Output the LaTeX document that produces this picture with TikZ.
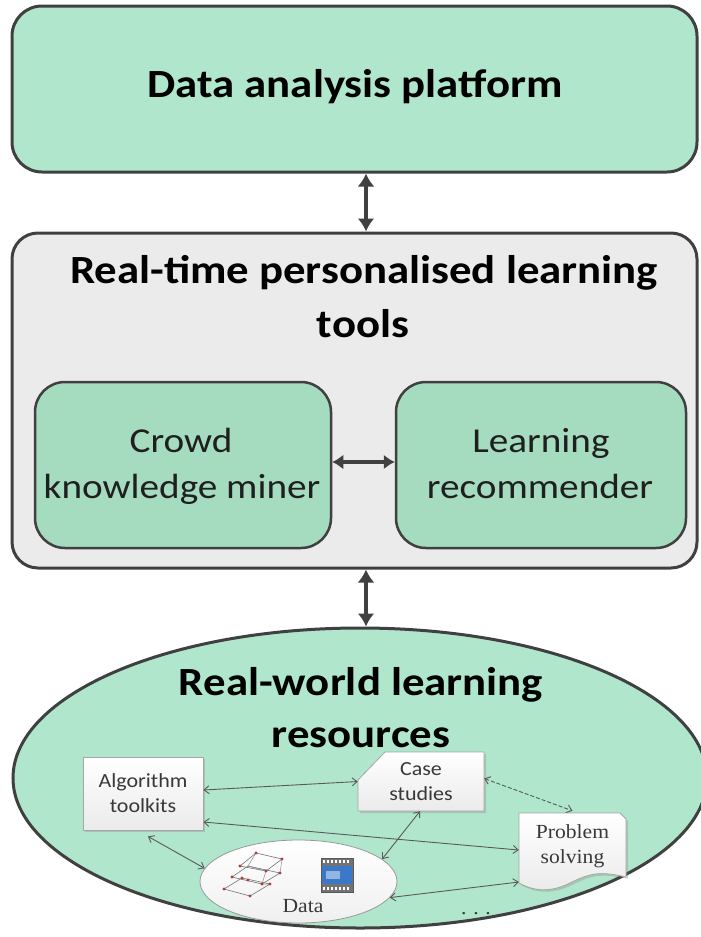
\documentclass[tikz,border=0pt]{standalone}
\usepackage{fontspec}
\setmainfont{Carlito}[FakeStretch=1.12]
\newfontfamily\smallserif{Liberation Serif}[FakeStretch=1.08]
\newfontfamily\smallsans{Carlito}[FakeStretch=1.1]
\usetikzlibrary{arrows.meta,shapes.geometric,shadows}
\definecolor{mint}{HTML}{B0E6CB}
\definecolor{mintdark}{HTML}{A5DBBF}
\definecolor{panel}{HTML}{EBEBEB}
\definecolor{edge}{HTML}{404040}
\definecolor{thinline}{HTML}{5A5A5A}
\definecolor{dotred}{HTML}{B03A3A}
\definecolor{filmblue}{HTML}{3B78C8}
\begin{document}
\begin{tikzpicture}[x=1pt,y=-1pt,
  bigbox/.style={draw=edge, line width=3pt, rounded corners=30pt, inner sep=0pt},
  heading/.style={font=\fontsize{40}{48}\selectfont\bfseries, anchor=base, inner sep=0pt, text=black},
  innertxt/.style={font=\fontsize{35}{42}\selectfont, anchor=base, inner sep=0pt, text=black!88},
  bigarrow/.style={draw=edge, line width=4.5pt, {Latex[length=13pt,width=17pt]}-{Latex[length=13pt,width=17pt]}},
  midarrow/.style={draw=edge, line width=4pt, {Latex[length=11pt,width=15pt]}-{Latex[length=11pt,width=15pt]}},
  smallbox/.style={draw=black!35, line width=0.8pt, top color=white, bottom color=black!8,
    drop shadow={shadow xshift=2pt, shadow yshift=-2pt, opacity=0.3}},
  smallshape/.style={draw=black!35, line width=0.8pt, top color=white, bottom color=black!8},
  sans20/.style={font=\smallsans\fontsize{20}{25}\selectfont, text=black!78, align=center},
  serif20/.style={font=\smallserif\fontsize{20}{25}\selectfont, text=black!78, align=center},
  link/.style={draw=thinline, line width=0.9pt, {Straight Barb[length=5pt,width=8pt]}-{Straight Barb[length=5pt,width=8pt]}},
  rdot/.style={circle, fill=dotred, inner sep=0pt, minimum size=3.2pt}
]
\useasboundingbox (0,0) rectangle (701,937);

% top box
\node[bigbox, fill=mint, minimum width=685pt, minimum height=166pt] (dap) at (354.5,89) {};
\node[heading] (daptxt) at (355,97) {Data analysis platform};

% middle panel
\node[bigbox, fill=panel, rounded corners=26pt, minimum width=685pt, minimum height=335pt] (rtp) at (354.5,400.5) {};
\node[heading] (rtpt1) at (364,283) {Real-time personalised learning};
\node[heading] (rtpt2) at (363,337) {tools};

% inner boxes
\node[bigbox, line width=2.5pt, fill=mintdark, minimum width=296pt, minimum height=166pt] (ckm) at (183,465) {};
\node[innertxt] (ckm1) at (181,452) {Crowd};
\node[innertxt] (ckm2) at (182,498) {knowledge miner};
\node[bigbox, line width=2.5pt, fill=mintdark, minimum width=290pt, minimum height=166pt] (lr) at (541,465) {};
\node[innertxt] (lr1) at (541,452) {Learning};
\node[innertxt] (lr2) at (540,498) {recommender};

% ellipse
\node[ellipse, draw=edge, line width=3pt, fill=mint, minimum width=694pt, minimum height=300pt, inner sep=0pt] (rwl) at (360,778) {};
\node[heading] (rwl1) at (361,695) {Real-world learning};
\node[heading] (rwl2) at (361,747) {resources};

% big arrows
\draw[bigarrow] ([xshift=11.5pt]dap.south) -- ([xshift=11.5pt]rtp.north);
\draw[midarrow] ([yshift=3pt]ckm.east) -- ([yshift=3pt]lr.west);
\coordinate (a3) at ([xshift=11.5pt]rtp.south);
\draw[bigarrow] (a3) -- (a3 |- rwl.north);

% ---- small diagram ----
% Algorithm toolkits
\node[smallbox, sans20, minimum width=120pt, minimum height=73pt, inner sep=0pt] (alg) at (143,793.5) {Algorithm\\toolkits};

% Case studies (chamfered top-left)
\path[smallshape, drop shadow={shadow xshift=2pt, shadow yshift=-2pt, opacity=0.3}]
  (385,752) -- (484,752) -- (484,811) -- (358,811) -- (358,780) -- cycle;
\node[sans20, minimum width=126pt, minimum height=59pt, inner sep=0pt] (cs) at (421,781.5) {Case\\studies};

% Problem solving (document shape)
\path[smallshape, drop shadow={shadow xshift=2pt, shadow yshift=-2pt, opacity=0.3}]
  (519,813) -- (620,813) -- (626,819) -- (626,877)
  .. controls (600,871) and (590,873) .. (570,883)
  .. controls (552,892) and (535,892) .. (519,883) -- cycle;
\node[serif20, minimum width=107pt, minimum height=70pt, inner sep=0pt] (ps) at (572.5,846) {Problem\\solving};

% Data ellipse
\node[ellipse, draw=black!40, line width=0.8pt, top color=white, bottom color=black!6, minimum width=197pt, minimum height=83pt, inner sep=0pt] (data) at (298.5,881.5) {};
\node[serif20, anchor=base, inner sep=0pt] (datatxt) at (303,912) {Data};

% graph icon
\draw[black!55, line width=0.6pt] (240,866) -- (256,853) -- (282,859) -- (266,871) -- cycle;
\draw[black!55, line width=0.6pt] (232,877) -- (248,866) -- (280,873) -- (262,884) -- cycle;
\draw[black!55, line width=0.6pt] (224,889) -- (242,878) -- (270,884) -- (250,896) -- cycle;
\draw[black!45, line width=0.5pt] (256,853) -- (248,866) (282,859) -- (280,873) (266,871) -- (262,884) (262,884) -- (270,884) (248,866) -- (266,871);
\foreach \p in {(256,853),(282,859),(240,866),(266,871),(232,877),(280,873),(262,884),(248,880),(224,889),(270,884),(250,896),(242,878)}
  \node[rdot] at \p {};

% film icon
\draw[fill=black!55, draw=black!65, line width=0.6pt] (321,858) rectangle (353,892);
\fill[filmblue] (322,866) rectangle (352,884);
\fill[filmblue!55!white] (326,871) rectangle (340,879);
\foreach \xx in {323,327,331,335,339,343,347}{
  \fill[white] (\xx,860) rectangle ++(2.2,2.6);
  \fill[white] (\xx,887) rectangle ++(2.2,2.6);
}

% dots
\node[serif20, anchor=base, inner sep=0pt] (more) at (476,914) {.\,\,.\,\,.};

% links
\draw[link] ([yshift=3.5pt]alg.east) -- (cs.west);
\draw[link] ([yshift=-28.5pt]alg.east) -- ([yshift=-4pt]ps.west);
\draw[link] ([xshift=5pt,yshift=-6pt]alg.south) -- (data.172);
\draw[link] ([xshift=-1pt]cs.south) -- (data.15);
\draw[link, dashed, dash pattern=on 4pt off 2pt] ([yshift=3pt]cs.east) -- (ps.north);
\draw[link] (data.-10) -- ([yshift=-36pt]ps.west);
\end{tikzpicture}
\end{document}
